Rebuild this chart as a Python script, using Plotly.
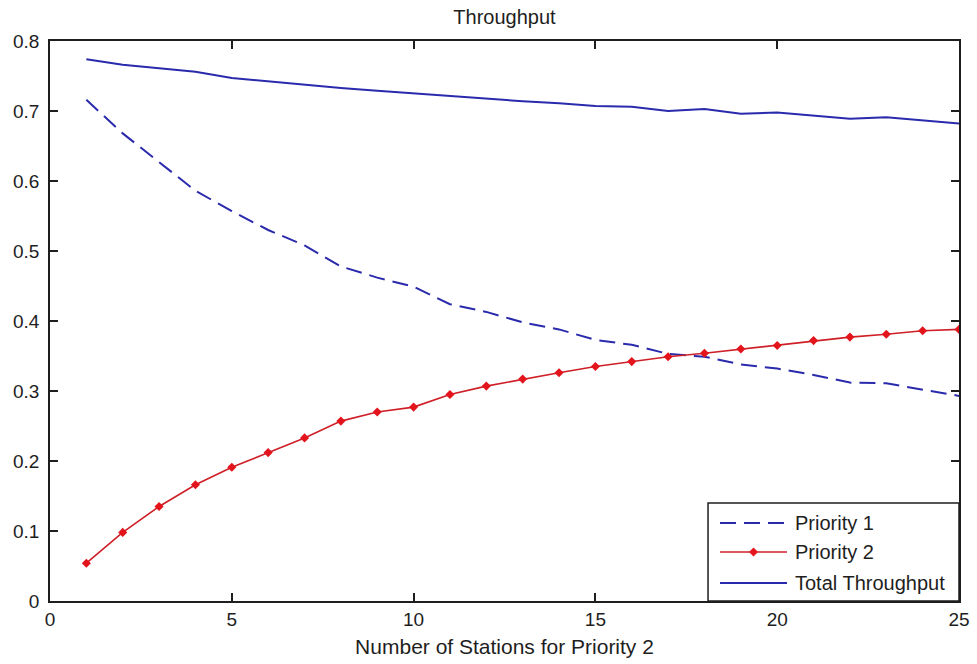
import plotly.graph_objects as go

# Number of stations assigned to priority 2
stations = list(range(1, 26))

# Throughput per class and in total
priority1 = [0.716, 0.668, 0.627, 0.586, 0.557, 0.530, 0.508, 0.478, 0.462, 0.449,
             0.424, 0.413, 0.398, 0.388, 0.373, 0.366, 0.353, 0.349, 0.338, 0.332,
             0.323, 0.312, 0.311, 0.302, 0.293]
priority2 = [0.054, 0.098, 0.135, 0.166, 0.191, 0.212, 0.233, 0.257, 0.270, 0.277,
             0.295, 0.307, 0.317, 0.326, 0.335, 0.342, 0.349, 0.354, 0.360, 0.365,
             0.372, 0.377, 0.381, 0.386, 0.388]
total = [0.774, 0.766, 0.761, 0.756, 0.747, 0.742, 0.738, 0.733, 0.729, 0.725,
         0.721, 0.718, 0.714, 0.711, 0.707, 0.706, 0.700, 0.703, 0.696, 0.698,
         0.694, 0.689, 0.691, 0.686, 0.682]

x_ticks = [0, 5, 10, 15, 20, 25]
y_ticks = [0, 0.1, 0.2, 0.3, 0.4, 0.5, 0.6, 0.7, 0.8]
y_tick_text = ["0", "0.1", "0.2", "0.3", "0.4", "0.5", "0.6", "0.7", "0.8"]

series_names = ["Priority 1", "Priority 2", "Total Throughput"]

BLUE = "#2a2aac"
RED_LINE = "#cf1f27"
RED_MARK = "#e3141c"
INK = "#1e1e1e"
FONT = "Liberation Sans, Arial, sans-serif"
DASH = "16px,8px"

fig = go.Figure()
fig.add_trace(go.Scatter(
    x=stations, y=priority1, mode="lines", name=series_names[0],
    line=dict(color=BLUE, width=2, dash=DASH), showlegend=False))
fig.add_trace(go.Scatter(
    x=stations, y=priority2, mode="lines+markers", name=series_names[1],
    line=dict(color=RED_LINE, width=1.6),
    marker=dict(symbol="diamond", size=7, color=RED_MARK), showlegend=False))
fig.add_trace(go.Scatter(
    x=stations, y=total, mode="lines", name=series_names[2],
    line=dict(color=BLUE, width=2), showlegend=False))

# Boxed legend in the lower-right corner of the axes
lx0, lx1 = 0.7239, 1.0
ly0, ly1 = 0.0, 0.175
sx0, sx1 = 0.7371, 0.8108
text_x = 0.8171
rows = [0.1393, 0.0875, 0.0321]

shapes = [dict(type="rect", xref="paper", yref="paper", x0=lx0, x1=lx1, y0=ly0, y1=ly1,
               line=dict(color=INK, width=1.5), fillcolor="white", layer="above")]
shapes.append(dict(type="line", xref="paper", yref="paper", x0=sx0, x1=sx1,
                   y0=rows[0], y1=rows[0], line=dict(color=BLUE, width=2, dash=DASH), layer="above"))
shapes.append(dict(type="line", xref="paper", yref="paper", x0=sx0, x1=sx1,
                   y0=rows[1], y1=rows[1], line=dict(color=RED_LINE, width=1.6), layer="above"))
mx = (sx0 + sx1) / 2
dx, dy = 4.2 / 909, 4.2 / 560
shapes.append(dict(type="path", xref="paper", yref="paper",
                   path=f"M {mx - dx},{rows[1]} L {mx},{rows[1] + dy} L {mx + dx},{rows[1]} L {mx},{rows[1] - dy} Z",
                   fillcolor=RED_MARK, line=dict(color=RED_MARK, width=0.5), layer="above"))
shapes.append(dict(type="line", xref="paper", yref="paper", x0=sx0, x1=sx1,
                   y0=rows[2], y1=rows[2], line=dict(color=BLUE, width=2), layer="above"))

annotations = [dict(xref="paper", yref="paper", x=text_x, y=yy, text=name,
                    xanchor="left", yanchor="middle", showarrow=False,
                    font=dict(family=FONT, size=20, color=INK))
               for name, yy in zip(series_names, rows)]

axis_common = dict(
    showline=True, linecolor=INK, linewidth=1.5, mirror="ticks",
    ticks="inside", ticklen=8, tickwidth=1.5, tickcolor=INK,
    showgrid=False, zeroline=False, automargin=False,
    tickfont=dict(family=FONT, size=19, color=INK),
)

fig.update_layout(
    width=977, height=664,
    margin=dict(l=50, r=18, t=41, b=63),
    paper_bgcolor="white", plot_bgcolor="white",
    font=dict(family=FONT, size=20, color=INK),
    title=dict(text="Throughput", x=0.5, xref="paper", xanchor="center",
               y=0.974, yanchor="middle", font=dict(family=FONT, size=20, color=INK),
               automargin=False),
    xaxis=dict(range=[0, 25], tickvals=x_ticks, ticktext=[str(v) for v in x_ticks],
               title=dict(text="Number of Stations for Priority 2", standoff=11,
                          font=dict(family=FONT, size=21, color=INK)),
               **axis_common),
    yaxis=dict(range=[0, 0.8], tickvals=y_ticks, ticktext=y_tick_text,
               ticklabelstandoff=5, **axis_common),
    shapes=shapes,
    annotations=annotations,
)

fig.write_html("out.html")
